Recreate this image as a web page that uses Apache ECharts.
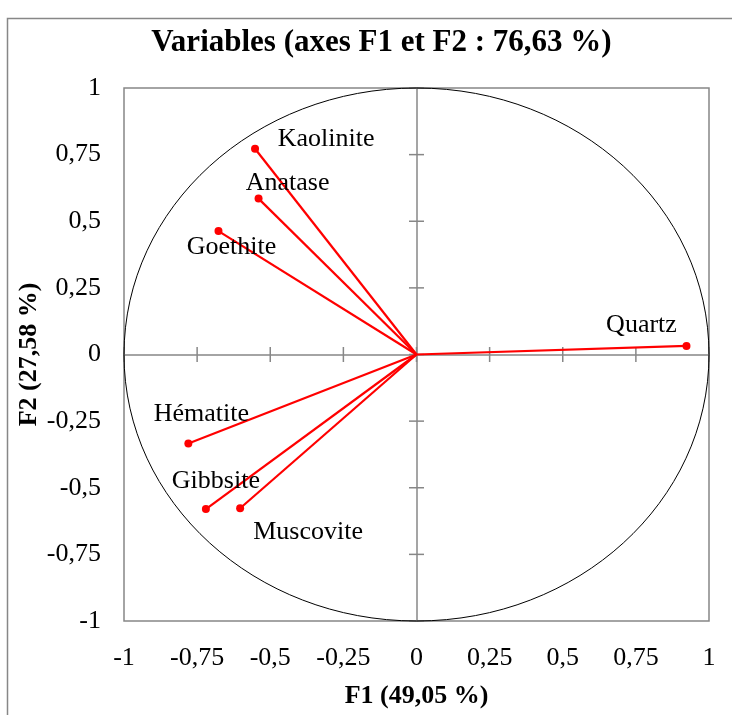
<!DOCTYPE html>
<html>
<head>
<meta charset="utf-8">
<script src="https://cdn.jsdelivr.net/npm/echarts@6.0.0/dist/echarts.min.js"></script>
<style>
  html, body { margin: 0; padding: 0; background: #fff; }
  #chart { width: 732px; height: 715px; }
</style>
</head>
<body>
<div id="chart"></div>
<script>
// Correlation circle: coordinates of each variable on the first two factors
const variables = ['Kaolinite', 'Anatase', 'Goethite', 'Quartz', 'Hématite', 'Gibbsite', 'Muscovite'];
const f1 = [-0.552, -0.540, -0.677, 0.923, -0.780, -0.720, -0.603];
const f2 = [0.772, 0.585, 0.463, 0.032, -0.334, -0.580, -0.577];

// Axis scale, tick positions and texts
const axisMin = -1;
const axisMax = 1;
const axisStep = 0.25;
const tickValues = [-1, -0.75, -0.5, -0.25, 0, 0.25, 0.5, 0.75, 1];
const titleText = 'Variables (axes F1 et F2 : 76,63 %)';
const xName = 'F1 (49,05 %)';
const yName = 'F2 (27,58 %)';

// Where each variable name sits relative to its arrow tip (px)
const labelOffsets = {
  'Kaolinite': [71, -10],
  'Anatase': [29, -15],
  'Goethite': [13, 16],
  'Quartz': [-45, -21],
  'Hématite': [13, -29],
  'Gibbsite': [10, -28],
  'Muscovite': [68, 24]
};

const serif = 'Liberation Serif, Times New Roman, serif';
const gray = '#878787';
const tickHalf = 7.5;
const fmt = v => String(v).replace('.', ',');

function scaleAxis(extra) {
  return Object.assign({
    type: 'value', min: axisMin, max: axisMax, interval: axisStep,
    splitLine: { show: false }
  }, extra);
}

// Axis line running through the origin
function crossAxis(position) {
  return scaleAxis({
    position: position,
    axisLine: { show: true, onZero: true, onZeroAxisIndex: 0, lineStyle: { color: gray, width: 1.5 } },
    axisTick: { show: false },
    axisLabel: { show: false }
  });
}

const chart = echarts.init(document.getElementById('chart'), null, { renderer: 'canvas' });

const option = {
  animation: false,
  backgroundColor: '#fff',
  title: {
    text: titleText,
    left: 381.5,
    top: 27,
    padding: 0,
    textAlign: 'center',
    textStyle: { fontFamily: serif, fontWeight: 'bold', fontSize: 31, color: '#000' }
  },
  graphic: [{
    type: 'rect',
    z: -10,
    silent: true,
    shape: { x: 7.5, y: 18.5, width: 900, height: 900 },
    style: { fill: 'none', stroke: gray, lineWidth: 1.5 }
  }],
  grid: {
    left: 124, top: 88, width: 585, height: 533,
    show: true, borderColor: gray, borderWidth: 1.5, backgroundColor: 'transparent',
    outerBoundsMode: 'none'
  },
  xAxis: [
    scaleAxis({
      position: 'bottom',
      axisLine: { show: false, onZero: false },
      axisTick: { show: false },
      axisLabel: { formatter: fmt, fontFamily: serif, fontSize: 26, color: '#000', margin: 24 },
      name: xName, nameLocation: 'middle', nameGap: 62, nameMoveOverlap: false,
      nameTextStyle: { fontFamily: serif, fontWeight: 'bold', fontSize: 26, color: '#000' }
    }),
    crossAxis('bottom')
  ],
  yAxis: [
    scaleAxis({
      position: 'left',
      axisLine: { show: false, onZero: false },
      axisTick: { show: false },
      axisLabel: { formatter: fmt, fontFamily: serif, fontSize: 26, color: '#000', margin: 23 },
      name: yName, nameLocation: 'middle', nameGap: 82, nameMoveOverlap: false,
      nameTextStyle: { fontFamily: serif, fontWeight: 'bold', fontSize: 26, color: '#000' }
    }),
    crossAxis('left')
  ],
  series: [
    {
      // tick marks crossing both axes at each tick value
      type: 'custom',
      silent: true,
      xAxisIndex: 0, yAxisIndex: 0,
      data: tickValues.map(v => [v, 0]),
      renderItem: function (params, api) {
        const v = api.value(0);
        const px = api.coord([v, 0]);
        const py = api.coord([0, v]);
        const st = { stroke: gray, lineWidth: 1.5 };
        return {
          type: 'group',
          children: [
            { type: 'line', shape: { x1: px[0], y1: px[1] - tickHalf, x2: px[0], y2: px[1] + tickHalf }, style: st },
            { type: 'line', shape: { x1: py[0] - tickHalf, y1: py[1], x2: py[0] + tickHalf, y2: py[1] }, style: st }
          ]
        };
      },
      z: 1
    },
    {
      // unit circle of correlations
      type: 'custom',
      silent: true,
      xAxisIndex: 0, yAxisIndex: 0,
      data: [[0, 0]],
      renderItem: function (params, api) {
        const c = api.coord([0, 0]);
        const s = api.size([1, 1]);
        return {
          type: 'ellipse',
          shape: { cx: c[0], cy: c[1], rx: s[0], ry: s[1] },
          style: { fill: 'none', stroke: '#000', lineWidth: 1 }
        };
      },
      z: 3
    },
    {
      // arrows from the origin to each variable
      type: 'custom',
      silent: true,
      xAxisIndex: 0, yAxisIndex: 0,
      data: variables.map((n, i) => [f1[i], f2[i]]),
      renderItem: function (params, api) {
        const o = api.coord([0, 0]);
        const p = api.coord([api.value(0), api.value(1)]);
        return {
          type: 'line',
          shape: { x1: o[0], y1: o[1], x2: p[0], y2: p[1] },
          style: { stroke: '#ff0000', lineWidth: 2.2 }
        };
      },
      z: 4
    },
    {
      type: 'scatter',
      xAxisIndex: 0, yAxisIndex: 0,
      symbol: 'circle',
      symbolSize: 8,
      itemStyle: { color: '#ff0000', opacity: 1 },
      data: variables.map((n, i) => ({
        name: n,
        value: [f1[i], f2[i]],
        label: { offset: labelOffsets[n] }
      })),
      label: {
        show: true,
        position: 'inside',
        formatter: p => p.name,
        fontFamily: serif,
        fontSize: 26,
        color: '#000'
      },
      z: 5
    }
  ]
};

chart.setOption(option);
</script>
</body>
</html>
